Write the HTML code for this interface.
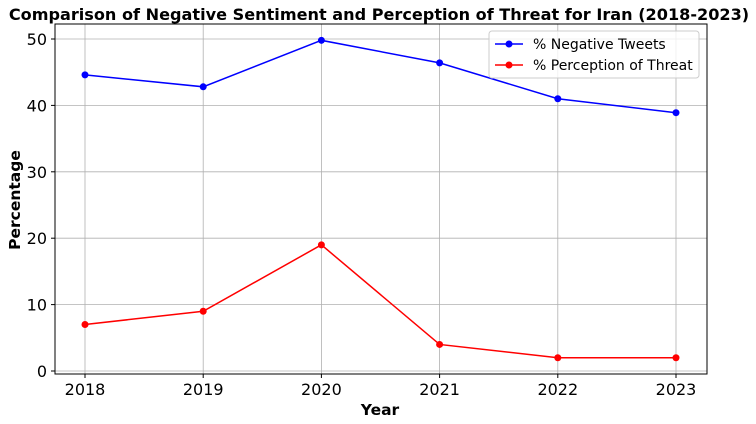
<!DOCTYPE html>
<html><head><meta charset="utf-8">
<style>
html,body{margin:0;padding:0;background:#fff;}
svg{display:block;font-family:"DejaVu Sans","Liberation Sans",sans-serif;}
</style></head>
<body>
<svg id="chart" width="756" height="424" viewBox="0 0 756 424">
<text x="379" y="20" text-anchor="middle" font-size="16.1" font-weight="bold">Comparison of Negative Sentiment and Perception of Threat for Iran (2018-2023)</text>
<g id="grid"></g>
<g id="axes"></g>
<g id="series"></g>
<text x="380" y="415" text-anchor="middle" font-size="15.5" font-weight="bold">Year</text>
<text x="20" y="200" text-anchor="middle" font-size="15.5" font-weight="bold" transform="rotate(-90 20 200)">Percentage</text>
<g>
<rect x="489" y="31" width="210" height="47" rx="3" fill="#fff" fill-opacity="0.8" stroke="#ccc"/>
<g>
<line x1="495" y1="44" x2="523" y2="44" stroke="blue" stroke-width="1.5"/>
<circle cx="509" cy="44" r="3.5" fill="blue"/>
<text x="533" y="49" font-size="14">% Negative Tweets</text>
</g>
<g>
<line x1="495" y1="65" x2="523" y2="65" stroke="red" stroke-width="1.5"/>
<circle cx="509" cy="65" r="3.5" fill="red"/>
<text x="533" y="70" font-size="14">% Perception of Threat</text>
</g>
</g>
</svg>
<script>
const years = [2018, 2019, 2020, 2021, 2022, 2023];
const negativeTweets = [44.6, 42.8, 49.8, 46.4, 41.0, 38.9];
const perceptionThreat = [7.0, 9.0, 19.0, 4.0, 2.0, 2.0];
const yTicks = [0, 10, 20, 30, 40, 50];

const NS = "http://www.w3.org/2000/svg";
const L = 55, R = 707, T = 24, B = 374;
function x(yr){ return 85 + (yr - 2018) * (676 - 85) / 5; }
function y(v){ return 371 - v * 6.64; }
function mk(tag, attrs, parent){
  const e = document.createElementNS(NS, tag);
  for (const k in attrs) e.setAttribute(k, attrs[k]);
  parent.appendChild(e); return e;
}
const grid = document.getElementById('grid');
const axes = document.getElementById('axes');
const series = document.getElementById('series');

years.forEach(yr => {
  const g = mk('line', {x1:x(yr), x2:x(yr), y1:T, y2:B, stroke:'#b0b0b0', 'stroke-width':0.8}, grid);
  
  
  mk('line', {x1:x(yr), x2:x(yr), y1:B, y2:B+4, stroke:'#000'}, axes);
  const t = mk('text', {x:x(yr), y:B+21, 'text-anchor':'middle', 'font-size':16}, axes);
  t.textContent = yr;
  
  
});
yTicks.forEach(v => {
  const g = mk('line', {x1:L, x2:R, y1:y(v), y2:y(v), stroke:'#b0b0b0', 'stroke-width':0.8}, grid);
  
  
  mk('line', {x1:L-4, x2:L, y1:y(v), y2:y(v), stroke:'#000'}, axes);
  const t = mk('text', {x:L-8, y:y(v)+6, 'text-anchor':'end', 'font-size':16}, axes);
  t.textContent = v;
  
  
});
const frame = mk('rect', {x:L, y:T, width:R-L, height:B-T, fill:'none', stroke:'#000', 'stroke-width':1}, axes);



function drawSeries(vals, color, name){
  const pts = vals.map((v,i) => x(years[i]) + ',' + y(v)).join(' ');
  const pl = mk('polyline', {points:pts, fill:'none', stroke:color, 'stroke-width':1.5}, series);
  
  
  vals.forEach((v,i) => {
    const c = mk('circle', {cx:x(years[i]), cy:y(v), r:3.5, fill:color}, series);
    
    
  });
}
drawSeries(negativeTweets, 'blue', 'negative-tweets');
drawSeries(perceptionThreat, 'red', 'perception-of-threat');
</script>
</body></html>
